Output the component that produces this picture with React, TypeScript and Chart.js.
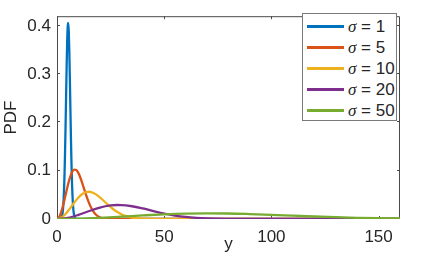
import React, { useEffect, useRef } from 'react';
import Chart from 'chart.js/auto';

// ---- data ----
const sigmaLabels = ['1', '5', '10', '20', '50'];

const yValuesS1X = [0, 1, 2, 2.5, 3, 3.5, 3.75, 4, 4.25, 4.5, 4.75, 5, 5.25, 5.5, 5.75, 6, 6.25, 6.5, 6.75, 7, 7.5, 8, 8.5, 9, 10, 160];
const pdfS1 = [0, 0.00003, 0.0018, 0.0088, 0.0324, 0.0907, 0.137, 0.1936, 0.256, 0.3168, 0.3673, 0.3989, 0.406, 0.3873, 0.3463, 0.2903, 0.2283, 0.1684, 0.1165, 0.0756, 0.0263, 0.0071, 0.0015, 0.0002, 0, 0];

const yValuesS5X = [0, 1, 2, 3, 4, 5, 6, 7, 8, 9, 10, 11, 12, 13, 14, 15, 16, 17, 18, 19, 20, 22, 24, 26, 30, 160];
const pdfS5 = [0, 0.0038, 0.0147, 0.0309, 0.0499, 0.069, 0.0853, 0.0969, 0.1023, 0.1014, 0.095, 0.0844, 0.0713, 0.0574, 0.0441, 0.0324, 0.0227, 0.0152, 0.0098, 0.006, 0.0036, 0.0011, 0.0003, 0.0001, 0, 0];

const yValuesS10X = [0, 2, 4, 6, 8, 10, 12, 14, 15, 16, 18, 20, 22, 24, 26, 28, 30, 32, 34, 36, 40, 45, 50, 160];
const pdfS10 = [0, 0.0028, 0.0105, 0.0215, 0.0336, 0.0445, 0.0524, 0.0561, 0.0564, 0.0557, 0.0515, 0.0448, 0.0368, 0.0287, 0.0212, 0.0149, 0.01, 0.0064, 0.0039, 0.0023, 0.0007, 0.0001, 0, 0];

const yValuesS20X = [0, 5, 10, 15, 20, 25, 28, 30, 35, 40, 45, 50, 55, 60, 65, 70, 80, 90, 100, 160];
const pdfS20 = [0, 0.0023, 0.0086, 0.0165, 0.0237, 0.0281, 0.029, 0.0289, 0.0264, 0.0218, 0.0164, 0.0113, 0.0072, 0.0042, 0.0023, 0.0012, 0.0003, 0, 0, 0];

const yValuesS50X = [0, 10, 20, 30, 40, 50, 60, 70, 80, 90, 100, 110, 120, 130, 140, 150, 160];
const pdfS50 = [0, 0.0006, 0.0024, 0.0048, 0.0074, 0.0097, 0.0112, 0.0117, 0.0114, 0.0102, 0.0087, 0.0069, 0.0052, 0.0037, 0.0025, 0.0016, 0.001];

const xTicks = [0, 50, 100, 150];
const yTicks = [0, 0.1, 0.2, 0.3, 0.4];
const xAxisTitle = 'y';
const yAxisTitle = 'PDF';

// ---- styles ----
const COLORS = ['#0072BD', '#D95319', '#EDB120', '#7E2F8E', '#77AC30'];
const AXIS_COLOR = '#4a4a4a';
const TEXT_COLOR = '#262626';
const FONT = "'Liberation Sans', Arial, Helvetica, sans-serif";

const seriesX = [yValuesS1X, yValuesS5X, yValuesS10X, yValuesS20X, yValuesS50X];
const seriesY = [pdfS1, pdfS5, pdfS10, pdfS20, pdfS50];

const boxPlugin = {
  id: 'matlabBox',
  beforeDatasetsDraw(chart: any) {
    const { ctx, chartArea, scales } = chart;
    const { left, right, top, bottom } = chartArea;
    const xs = scales.x;
    const ys = scales.y;
    ctx.save();
    ctx.strokeStyle = AXIS_COLOR;
    ctx.lineWidth = 1;
    ctx.beginPath();
    ctx.moveTo(left + 0.5, bottom - 0.5);
    ctx.lineTo(left + 0.5, top + 0.5);
    ctx.lineTo(right - 0.5, top + 0.5);
    ctx.lineTo(right - 0.5, bottom - 0.5);
    ctx.closePath();
    ctx.stroke();
    const tl = 3;
    ctx.beginPath();
    xTicks.forEach((v) => {
      const px = Math.round(xs.getPixelForValue(v)) + 0.5;
      ctx.moveTo(px, bottom);
      ctx.lineTo(px, bottom - tl);
      ctx.moveTo(px, top);
      ctx.lineTo(px, top + tl);
    });
    yTicks.forEach((v) => {
      const py = Math.round(ys.getPixelForValue(v)) - 0.5;
      ctx.moveTo(left, py);
      ctx.lineTo(left + tl, py);
      ctx.moveTo(right, py);
      ctx.lineTo(right - tl, py);
    });
    ctx.stroke();
    ctx.restore();
  },
};

export default function App() {
  const canvasRef = useRef<HTMLCanvasElement | null>(null);

  useEffect(() => {
    if (!canvasRef.current) return;
    const datasets = seriesX.map((xs, i) => ({
      label: 'σ = ' + sigmaLabels[i],
      data: xs.map((x, j) => ({ x, y: seriesY[i][j] })),
      borderColor: COLORS[i],
      backgroundColor: COLORS[i],
      borderWidth: 2.3,
      pointRadius: 0,
      fill: false,
      cubicInterpolationMode: 'monotone' as const,
      order: seriesX.length - 1 - i,
    }));
    const chart = new Chart(canvasRef.current, {
      type: 'line',
      data: { datasets },
      plugins: [boxPlugin],
      options: {
        animation: false,
        responsive: false,
        maintainAspectRatio: false,
        layout: { padding: { left: 0, top: 11, right: 43, bottom: 0 } },
        plugins: {
          legend: { display: false },
          tooltip: { enabled: false },
        },
        scales: {
          x: {
            type: 'linear',
            min: 0,
            max: 160,
            border: { display: false },
            grid: { display: false, drawTicks: false },
            ticks: {
              stepSize: 50,
              includeBounds: false,
              padding: 8,
              color: TEXT_COLOR,
              font: { family: FONT, size: 17 },
              maxRotation: 0,
            },
            title: {
              display: true,
              text: xAxisTitle,
              color: TEXT_COLOR,
              font: { family: FONT, size: 17 },
              padding: { top: 0, bottom: 2 },
            },
            afterFit(scale: any) {
              scale.height = 38;
            },
          },
          y: {
            type: 'linear',
            min: 0,
            max: 0.42,
            border: { display: false },
            grid: { display: false, drawTicks: false },
            ticks: {
              stepSize: 0.1,
              includeBounds: false,
              padding: 6,
              color: TEXT_COLOR,
              font: { family: FONT, size: 17 },
              callback: (v: any) => (Math.abs(v) < 1e-9 ? '0' : Number(v).toFixed(1)),
            },
            title: {
              display: true,
              text: yAxisTitle,
              color: TEXT_COLOR,
              font: { family: FONT, size: 17 },
              padding: { top: 1, bottom: 0 },
            },
            afterFit(scale: any) {
              scale.width = 57;
            },
          },
        },
      },
    });
    return () => chart.destroy();
  }, []);

  return (
    <div style={{ position: 'absolute', left: 0, top: 0, width: 443, height: 257, background: '#ffffff' }}>
      <canvas ref={canvasRef} width={443} height={257} style={{ display: 'block' }} />
      <div
        style={{
          position: 'absolute',
          left: 302,
          top: 13,
          width: 93,
          height: 106,
          border: '1px solid #7a7a7a',
          background: '#ffffff',
          fontFamily: FONT,
          fontSize: 17,
          color: TEXT_COLOR,
        }}
      >
        {sigmaLabels.map((s, i) => (
          <div
            key={s}
            style={{ position: 'absolute', left: 4, top: 2 + i * 21, height: 21, display: 'flex', alignItems: 'center', whiteSpace: 'nowrap' }}
          >
            <span style={{ display: 'inline-block', width: 37, height: 2.5, background: COLORS[i], marginRight: 4 }} />
            <span>
              <i style={{ fontFamily: "'Liberation Serif', 'DejaVu Serif', serif" }}>σ</i> = {s}
            </span>
          </div>
        ))}
      </div>
    </div>
  );
}
